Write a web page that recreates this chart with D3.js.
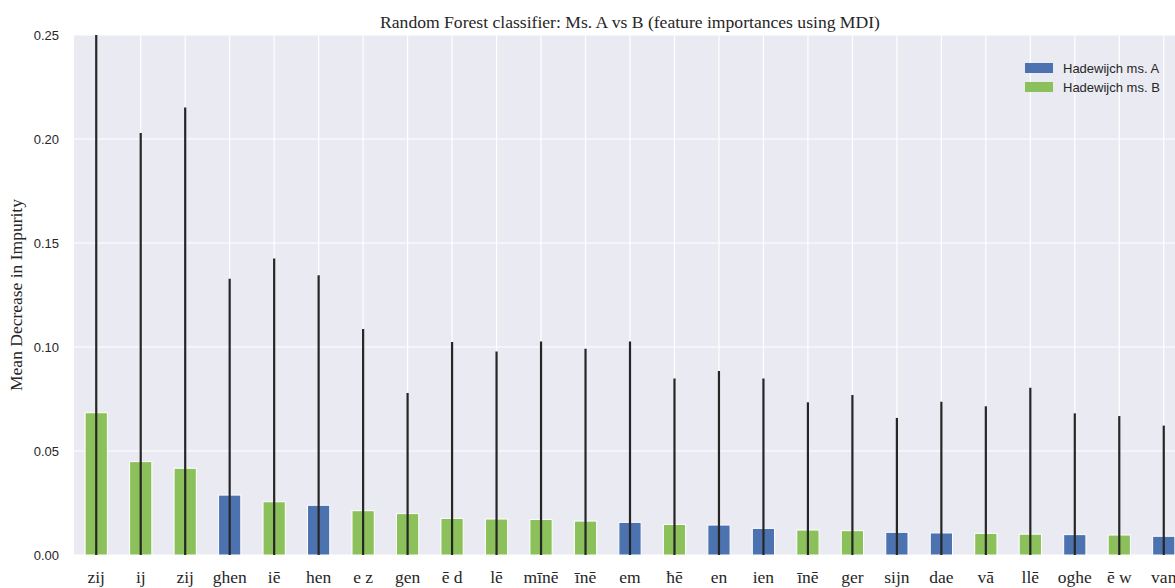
<!DOCTYPE html>
<html>
<head>
<meta charset="utf-8">
<script src="https://cdn.jsdelivr.net/npm/d3@7"></script>
<style>
  body { margin: 0; background: #fff; }
  svg { display: block; }
</style>
</head>
<body>
<div id="plot"></div>
<script>
// Features (sorted by importance), value, std and which manuscript they favour
const features = ["zij", "ĳ", "zij", "ghen", "iē", "hen", "e z", "gen", "ē d", "lē", "mīnē", "īnē",
  "em", "ħē", "en", "ien", "īnē", "ger", "sijn", "dae", "vā", "llē", "oghe", "ē w", "van"];
const importances = [0.0684, 0.0449, 0.0417, 0.0288, 0.0256, 0.0239, 0.0213, 0.0199, 0.0176, 0.0173,
  0.0171, 0.0163, 0.0157, 0.0147, 0.0144, 0.0128, 0.0120, 0.0117, 0.0109, 0.0106, 0.0104, 0.0100,
  0.0098, 0.0096, 0.0090];
const stds = [0.222, 0.158, 0.1735, 0.104, 0.117, 0.1106, 0.0874, 0.058, 0.0848, 0.0805, 0.0855,
  0.0829, 0.0869, 0.0702, 0.0741, 0.0721, 0.0614, 0.0652, 0.055, 0.0631, 0.0611, 0.0704, 0.0583,
  0.0572, 0.0532];
const manuscripts = ["B", "B", "B", "A", "B", "A", "B", "B", "B", "B", "B", "B",
  "A", "B", "A", "A", "B", "B", "A", "A", "B", "B", "A", "B", "A"];
const seriesNames = ["Hadewijch ms. A", "Hadewijch ms. B"];
const yTicks = [0, 0.05, 0.10, 0.15, 0.20, 0.25];

const data = features.map((f, i) => ({
  idx: i, feature: f, value: importances[i], std: stds[i], ms: manuscripts[i]
}));

// Layout
const W = 1175, H = 588;
const margin = { top: 35, left: 74 };
const plotW = 1112, plotH = 520;

const svg = d3.select("#plot")
  .append("svg")
  .attr("width", W)
  .attr("height", H);

const g = svg.append("g")
  .attr("transform", `translate(${margin.left}, ${margin.top})`);

// Scales
const x = d3.scaleBand()
  .domain(data.map(d => d.idx))
  .range([0, plotW])
  .paddingInner(0)
  .paddingOuter(0);

const y = d3.scaleLinear()
  .domain([0, 0.25])
  .range([plotH, 0]);

const color = d3.scaleOrdinal()
  .domain(["A", "B"])
  .range(["#4c72b0", "#8bc05a"]);

// Background and clip
g.append("rect")
  .attr("width", plotW)
  .attr("height", plotH)
  .attr("fill", "#eaeaf2");

g.append("clipPath")
  .attr("id", "clip")
  .append("rect")
  .attr("width", plotW)
  .attr("height", plotH);

// Grid lines
g.append("g")
  .selectAll("line")
  .data(yTicks)
  .enter()
  .append("line")
  .attr("x1", 0)
  .attr("x2", plotW)
  .attr("y1", d => y(d))
  .attr("y2", d => y(d))
  .attr("stroke", "#fff")
  .attr("stroke-width", 1.2);

g.append("g")
  .selectAll("line")
  .data(data)
  .enter()
  .append("line")
  .attr("x1", d => x(d.idx) + x.bandwidth() / 2)
  .attr("x2", d => x(d.idx) + x.bandwidth() / 2)
  .attr("y1", 0)
  .attr("y2", plotH)
  .attr("stroke", "#fff")
  .attr("stroke-width", 1.2);

const inner = g.append("g").attr("clip-path", "url(#clip)");

// Bars
const barW = x.bandwidth() * 0.5;
inner.selectAll(".bar")
  .data(data)
  .enter()
  .append("rect")
  .attr("class", "bar")
  .attr("x", d => x(d.idx) + (x.bandwidth() - barW) / 2)
  .attr("y", d => y(d.value))
  .attr("width", barW)
  .attr("height", d => plotH - y(d.value))
  .attr("fill", d => color(d.ms))
  .attr("stroke", "#fff")
  .attr("stroke-width", 1);

// Error bars
inner.selectAll(".err")
  .data(data)
  .enter()
  .append("line")
  .attr("class", "err")
  .attr("x1", d => x(d.idx) + x.bandwidth() / 2)
  .attr("x2", d => x(d.idx) + x.bandwidth() / 2)
  .attr("y1", d => y(d.value - d.std))
  .attr("y2", d => y(d.value + d.std))
  .attr("stroke", "#262626")
  .attr("stroke-width", 2.2);

// Y axis tick labels
g.append("g")
  .selectAll("text")
  .data(yTicks)
  .enter()
  .append("text")
  .attr("x", -15)
  .attr("y", d => y(d))
  .attr("dy", "0.35em")
  .attr("text-anchor", "end")
  .style("font-family", "'Liberation Sans', Arial, sans-serif")
  .style("font-size", "13px")
  .style("fill", "#262626")
  .text(d3.format(".2f"));

// X axis labels
g.append("g")
  .selectAll("text")
  .data(data)
  .enter()
  .append("text")
  .attr("x", d => x(d.idx) + x.bandwidth() / 2)
  .attr("y", plotH + 28)
  .attr("text-anchor", "middle")
  .style("font-family", "'Liberation Serif', 'Times New Roman', serif")
  .style("font-size", "17.5px")
  .style("fill", "#262626")
  .text(d => d.feature);

// Y axis title
svg.append("text")
  .attr("transform", `translate(22, ${margin.top + plotH / 2}) rotate(-90)`)
  .attr("text-anchor", "middle")
  .style("font-family", "'Liberation Serif', 'Times New Roman', serif")
  .style("font-size", "17.5px")
  .style("fill", "#262626")
  .text("Mean Decrease in Impurity");

// Title
svg.append("text")
  .attr("x", margin.left + plotW / 2)
  .attr("y", 28)
  .attr("text-anchor", "middle")
  .style("font-family", "'Liberation Serif', 'Times New Roman', serif")
  .style("font-size", "17.6px")
  .style("fill", "#262626")
  .text("Random Forest classifier: Ms. A vs B (feature importances using MDI)");

// Legend
const legend = svg.append("g")
  .attr("transform", "translate(1025, 63)");

const legendItem = legend.selectAll("g")
  .data(["A", "B"])
  .enter()
  .append("g")
  .attr("transform", (d, i) => `translate(0, ${i * 19})`);

legendItem.append("rect")
  .attr("width", 28)
  .attr("height", 10)
  .attr("fill", d => color(d));

legendItem.append("text")
  .attr("x", 38)
  .attr("y", 5)
  .attr("dy", "0.35em")
  .style("font-family", "'Liberation Sans', Arial, sans-serif")
  .style("font-size", "13px")
  .style("fill", "#262626")
  .text((d, i) => seriesNames[i]);
</script>
</body>
</html>
